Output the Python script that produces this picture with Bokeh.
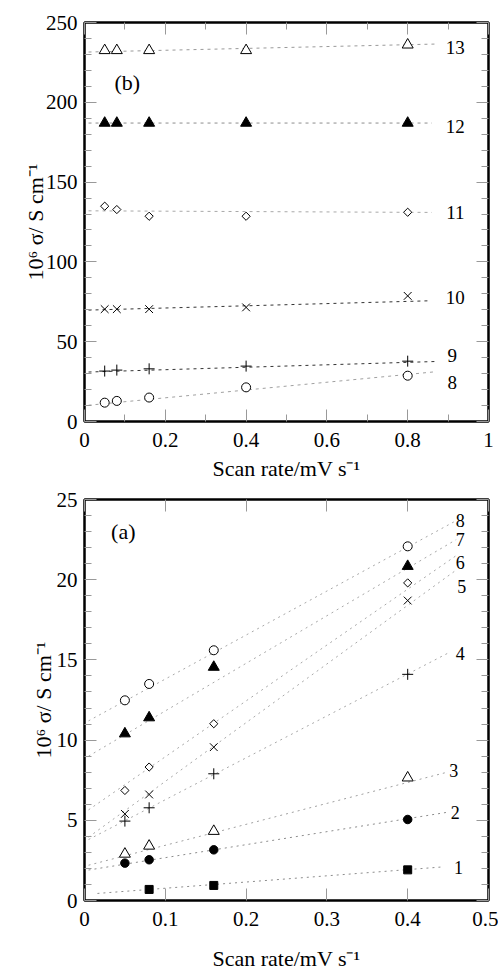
import math
from bokeh.plotting import figure
from bokeh.layouts import column
from bokeh.models import FixedTicker, LinearAxis, Range1d, CustomJSTickFormatter
from bokeh.core.properties import value
from bokeh.embed import file_html
from bokeh.resources import INLINE

FONT = "Liberation Serif"

# ---------------- panel (b) data ----------------
b_rate = [0.05, 0.08, 0.16, 0.4, 0.8]
b_s8 = [11.8, 12.9, 15.0, 21.4, 28.7]
b_s9 = [31.6, 32.2, 33.0, 34.7, 37.8]
b_s10 = [70.4, 70.4, 70.4, 71.5, 78.7]
b_s11 = [134.9, 132.8, 128.6, 128.6, 131.1]
b_s12 = [187.0, 187.0, 187.0, 187.0, 187.0]
b_s13 = [232.5, 232.5, 232.5, 232.5, 236.0]
b_names = ["8", "9", "10", "11", "12", "13"]
# fitted lines: start/end points
b_fit_x0 = [0.01, 0.01, 0.01, 0.01, 0.01, 0.01]
b_fit_y0 = [10.2, 31.0, 69.8, 132.0, 187.0, 231.5]
b_fit_x1 = [0.87, 0.87, 0.85, 0.86, 0.86, 0.87]
b_fit_y1 = [31.2, 37.6, 75.6, 131.0, 187.0, 236.5]
b_lab_x = [0.91, 0.91, 0.918, 0.918, 0.918, 0.918]
b_lab_y = [24.7, 41.3, 77.7, 130.9, 184.7, 234.6]
b_xticks = [0, 0.2, 0.4, 0.6, 0.8, 1]
b_xlabels = ["0", "0.2", "0.4", "0.6", "0.8", "1"]
b_xminor = [0.1, 0.3, 0.5, 0.7, 0.9]
b_yticks = [0, 50, 100, 150, 200, 250]
b_ylabels = ["0", "50", "100", "150", "200", "250"]
b_yminor = [v for v in range(10, 250, 10) if v % 50]

# ---------------- panel (a) data ----------------
a_rate = [0.05, 0.08, 0.16, 0.4]
a_rate1 = [0.08, 0.16, 0.4]
a_s1 = [0.69, 0.94, 1.91]
a_s2 = [2.33, 2.54, 3.16, 5.05]
a_s3 = [2.9, 3.4, 4.32, 7.65]
a_s4 = [4.95, 5.78, 7.9, 14.1]
a_s5 = [5.4, 6.61, 9.56, 18.7]
a_s6 = [6.86, 8.32, 11.02, 19.8]
a_s7 = [10.4, 11.4, 14.55, 20.84]
a_s8 = [12.48, 13.5, 15.6, 22.08]
a_names = ["1", "2", "3", "4", "5", "6", "7", "8"]
a_fit_x0 = [0.016, 0.005, 0.005, 0.005, 0.005, 0.005, 0.005, 0.005]
a_fit_y0 = [0.44, 1.9, 2.2, 3.8, 3.95, 5.65, 9.0, 11.2]
a_fit_x1 = [0.445, 0.449, 0.449, 0.449, 0.46, 0.46, 0.46, 0.457]
a_fit_y1 = [2.1, 5.5, 8.0, 15.4, 20.6, 21.5, 22.5, 23.6]
a_lab_x = [0.463, 0.459, 0.457, 0.465, 0.467, 0.465, 0.465, 0.465]
a_lab_y = [2.03, 5.5, 8.1, 15.4, 19.6, 21.1, 22.5, 23.7]
a_xticks = [0, 0.1, 0.2, 0.3, 0.4, 0.5]
a_xlabels = ["0", "0.1", "0.2", "0.3", "0.4", "0.5"]
a_yticks = [0, 5, 10, 15, 20, 25]
a_ylabels = ["0", "5", "10", "15", "20", "25"]
a_yminor = [v for v in range(1, 25) if v % 5]

X_LABEL = "Scan rate/mV s\u207b\u00b9"
Y_LABEL = "10\u2076 \u03c3/ S cm\u207b\u00b9"

MARK = {
    "circle_open": dict(marker="circle", size=9, fill_color="white", line_color="black"),
    "circle_filled": dict(marker="circle", size=8.5, fill_color="black", line_color="black"),
    "cross": dict(marker="cross", size=11, line_color="black"),
    "x": dict(marker="x", size=11, line_color="black"),
    "diamond_open": dict(marker="square", size=5.8, angle=math.pi / 4, fill_color="white", line_color="black"),
    "tri_filled": dict(marker="triangle", size=11, fill_color="black", line_color="black"),
    "tri_open": dict(marker="triangle", size=11, fill_color="white", line_color="black"),
    "square_filled": dict(marker="square", size=8, fill_color="black", line_color="black"),
}


def make_fig(height, btop, bbottom, xr, yr, xt, xl, xm, yt, yl, ym, ylab_standoff, xlab_standoff):
    p = figure(width=498, height=height, output_backend="svg", toolbar_location=None,
               x_range=Range1d(*xr), y_range=Range1d(*yr),
               min_border_left=84, min_border_right=10, min_border_top=btop,
               min_border_bottom=bbottom)
    p.xgrid.visible = False
    p.ygrid.visible = False
    p.outline_line_color = "black"
    p.outline_line_width = 2.5
    p.outline_line_alpha = 1.0
    bottom = p.below[0]
    left = p.left[0]
    xtk = FixedTicker(ticks=xt, minor_ticks=xm)
    ytk = FixedTicker(ticks=yt, minor_ticks=ym)
    bottom.ticker = xtk
    left.ticker = ytk
    bottom.major_label_overrides = {float(k): v for k, v in zip(xt, xl)}
    left.major_label_overrides = {float(k): v for k, v in zip(yt, yl)}
    bottom.axis_label = X_LABEL
    left.axis_label = Y_LABEL
    blank = CustomJSTickFormatter(code="return ''")
    top = LinearAxis(ticker=xtk, formatter=blank, major_label_standoff=0)
    right = LinearAxis(ticker=ytk, formatter=blank, major_label_standoff=0)
    p.add_layout(top, "above")
    p.add_layout(right, "right")
    for ax in [bottom, left, top, right]:
        ax.axis_line_color = None
        ax.major_tick_in = 12
        ax.major_tick_out = 0
        ax.minor_tick_in = 7
        ax.minor_tick_out = 0
        ax.major_tick_line_color = "#999999"
        ax.minor_tick_line_color = "#999999"
    for ax in [bottom, left]:
        ax.major_label_text_font = FONT
        ax.major_label_text_font_size = "21px"
        ax.major_label_text_color = "black"
        ax.axis_label_text_font = FONT
        ax.axis_label_text_font_size = "22px"
        ax.axis_label_text_font_style = "normal"
        ax.axis_label_text_color = "black"
    bottom.major_label_standoff = 11
    left.major_label_standoff = 7
    bottom.axis_label_standoff = xlab_standoff
    left.axis_label_standoff = ylab_standoff
    return p


# ---------------- figure (b) ----------------
pb = make_fig(483, 22, 60, (0, 1), (0, 250), b_xticks, b_xlabels, b_xminor,
              b_yticks, b_ylabels, b_yminor, -5, 6)
b_series = [b_s8, b_s9, b_s10, b_s11, b_s12, b_s13]
b_marks = ["circle_open", "cross", "x", "diamond_open", "tri_filled", "tri_open"]
b_line_colors = ["#a0a0a0", "#333333", "#333333", "#a8a8a8", "#8c8c8c", "#999999"]
pb.segment(x0=b_fit_x0, y0=b_fit_y0, x1=b_fit_x1, y1=b_fit_y1,
           line_color=b_line_colors, line_width=1, line_dash="3 4")
for ys, mk in zip(b_series, b_marks):
    pb.scatter(x=b_rate, y=ys, line_width=1, **MARK[mk])
pb.text(x=b_lab_x, y=b_lab_y, text=b_names, text_font=value(FONT), text_font_size="19px",
        text_align="center", text_baseline="middle", text_color="black")
pb.text(x=[0.106], y=[212.6], text=["(b)"], text_font=value(FONT), text_font_size="22px",
        text_align="center", text_baseline="middle", text_color="black")

# ---------------- figure (a) ----------------
pa = make_fig(490, 16, 73, (0, 0.5), (0, 25), a_xticks, a_xlabels, [],
              a_yticks, a_ylabels, a_yminor, -2, 17)
a_series = [a_s1, a_s2, a_s3, a_s4, a_s5, a_s6, a_s7, a_s8]
a_xs = [a_rate1] + [a_rate] * 7
a_marks = ["square_filled", "circle_filled", "tri_open", "cross", "x", "diamond_open",
           "tri_filled", "circle_open"]
a_line_colors = ["#8c8c8c", "#8c8c8c", "#a0a0a0", "#a8a8a8", "#a8a8a8", "#a8a8a8",
                 "#a8a8a8", "#a8a8a8"]
pa.segment(x0=a_fit_x0, y0=a_fit_y0, x1=a_fit_x1, y1=a_fit_y1,
           line_color=a_line_colors, line_width=1, line_dash="2 4")
for xs, ys, mk in zip(a_xs, a_series, a_marks):
    pa.scatter(x=xs, y=ys, line_width=1, **MARK[mk])
pa.text(x=a_lab_x, y=a_lab_y, text=a_names, text_font=value(FONT), text_font_size="18px",
        text_align="center", text_baseline="middle", text_color="black")
pa.text(x=[0.048], y=[23.0], text=["(a)"], text_font=value(FONT), text_font_size="22px",
        text_align="center", text_baseline="middle", text_color="black")

layout = column(pb, pa, spacing=0)
open("out.html", "w").write(file_html(layout, INLINE))
